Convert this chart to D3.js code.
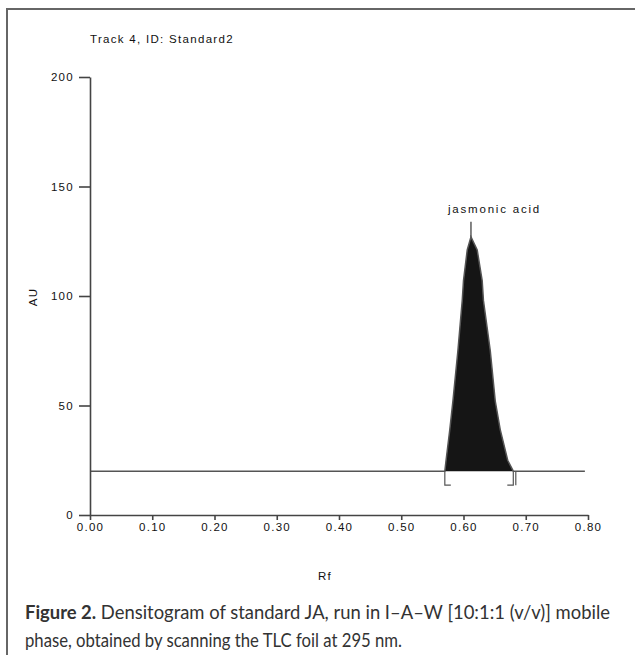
<!DOCTYPE html>
<html>
<head>
<meta charset="utf-8">
<script src="https://cdn.jsdelivr.net/npm/d3@7"></script>
<style>
  body { margin: 0; background: #fff; }
  .plot text { font-family: "Liberation Sans", Arial, sans-serif; font-size: 11.5px; letter-spacing: 1.3px; fill: #111; }
  .caption { font-family: Lato, "Open Sans", sans-serif; font-size: 18.5px; fill: #333; }
</style>
</head>
<body>
<div id="chart"></div>
<script>
// densitogram trace (Rf vs AU)
var rfValues = [0.000, 0.570, 0.572, 0.578, 0.583, 0.591, 0.598, 0.600, 0.606, 0.612, 0.622, 0.630, 0.632, 0.643, 0.651, 0.659, 0.671, 0.680, 0.795];
var auValues = [20, 20, 25, 39, 52, 75, 98, 107, 121, 127, 121, 107, 98, 75, 52, 39, 25, 20, 20];
var xTicks = [0, 0.1, 0.2, 0.3, 0.4, 0.5, 0.6, 0.7, 0.8];
var yTicks = [0, 50, 100, 150, 200];
var peakName = 'jasmonic acid';
var peakRf = 0.612;
var peakStart = 0.570;
var peakEnd = 0.680;
var baselineAU = 20;
var trackTitle = 'Track 4, ID: Standard2';
var captionBold = 'Figure 2.';
var captionLine1 = ' Densitogram of standard JA, run in I\u2013A\u2013W [10:1:1 (v/v)] mobile';
var captionLine2 = 'phase, obtained by scanning the TLC foil at 295 nm.';

var width = 635, height = 655;
var svg = d3.select('#chart').append('svg')
  .attr('width', width)
  .attr('height', height);

// outer frame (runs off the right and bottom edges)
svg.append('rect')
  .attr('x', 7).attr('y', 9)
  .attr('width', 700).attr('height', 700)
  .style('fill', 'none')
  .style('stroke', '#666')
  .style('stroke-width', 2);

var plot = svg.append('g').attr('class', 'plot');

var x = d3.scaleLinear().domain([0, 0.8]).range([90, 588]);
var y = d3.scaleLinear().domain([0, 200]).range([515, 77]);

var trace = rfValues.map(function(d, i) { return { rf: d, au: auValues[i] }; });

// filled peak
plot.append('path')
  .datum(trace)
  .attr('d', d3.area()
    .x(function(d) { return x(d.rf); })
    .y0(y(baselineAU))
    .y1(function(d) { return y(d.au); }))
  .style('fill', '#151515');

// baseline / trace line
plot.append('path')
  .datum(trace)
  .attr('d', d3.line()
    .x(function(d) { return x(d.rf); })
    .y(function(d) { return y(d.au); }))
  .style('fill', 'none')
  .style('stroke', '#555')
  .style('stroke-width', 1.5);

// integration brackets
var bracketDepth = 14, bracketFoot = 6;
plot.append('path')
  .attr('d', 'M' + (x(peakStart) + bracketFoot) + ',' + (y(baselineAU) + bracketDepth) +
    'H' + x(peakStart) + 'V' + y(baselineAU))
  .style('fill', 'none').style('stroke', '#555').style('stroke-width', 1.2);
plot.append('path')
  .attr('d', 'M' + (x(peakEnd) - bracketFoot) + ',' + (y(baselineAU) + bracketDepth) +
    'H' + x(peakEnd) + 'V' + y(baselineAU) +
    'M' + (x(peakEnd) + 2.5) + ',' + y(baselineAU) + 'V' + (y(baselineAU) + bracketDepth))
  .style('fill', 'none').style('stroke', '#555').style('stroke-width', 1.2);

// peak marker and label
var apex = trace.filter(function(d) { return d.rf === peakRf; })[0];
plot.append('line')
  .attr('x1', x(peakRf)).attr('x2', x(peakRf))
  .attr('y1', y(apex.au)).attr('y2', y(apex.au) - 15)
  .style('stroke', '#333').style('stroke-width', 1.2);
plot.append('text')
  .attr('x', x(peakRf) - 23)
  .attr('y', y(apex.au) - 24)
  .style('letter-spacing', '1.8px')
  .text(peakName);

// axes
var xAxis = plot.append('g')
  .attr('transform', 'translate(0,' + y(0) + ')')
  .call(d3.axisBottom(x).tickValues(xTicks).tickSize(5).tickSizeOuter(0).tickPadding(3)
    .tickFormat(d3.format('.2f')));
var yAxis = plot.append('g')
  .attr('transform', 'translate(' + x(0) + ',0)')
  .call(d3.axisLeft(y).tickValues(yTicks).tickSize(11).tickSizeOuter(0).tickPadding(5));
[xAxis, yAxis].forEach(function(a) {
  a.selectAll('path, line').style('stroke', '#444').style('stroke-width', 1.6);
  a.selectAll('text')
    .style('font-family', '"Liberation Sans", Arial, sans-serif')
    .style('font-size', '11.5px').style('fill', '#111');
});

plot.append('text')
  .attr('x', 90).attr('y', 43)
  .text(trackTitle);
plot.append('text')
  .attr('x', 325).attr('y', 580)
  .style('text-anchor', 'middle')
  .text('Rf');
plot.append('text')
  .attr('transform', 'translate(37,297) rotate(-90)')
  .style('text-anchor', 'middle')
  .text('AU');

// caption, squeezed to the width of the printed lines
var cap = svg.append('text').attr('class', 'caption').attr('x', 25).attr('y', 619)
  .attr('textLength', 585).attr('lengthAdjust', 'spacingAndGlyphs');
cap.append('tspan').style('font-weight', 'bold').text(captionBold);
cap.append('tspan').text(captionLine1);
svg.append('text').attr('class', 'caption').attr('x', 25).attr('y', 647)
  .attr('textLength', 377).attr('lengthAdjust', 'spacingAndGlyphs')
  .text(captionLine2);
</script>
</body>
</html>
